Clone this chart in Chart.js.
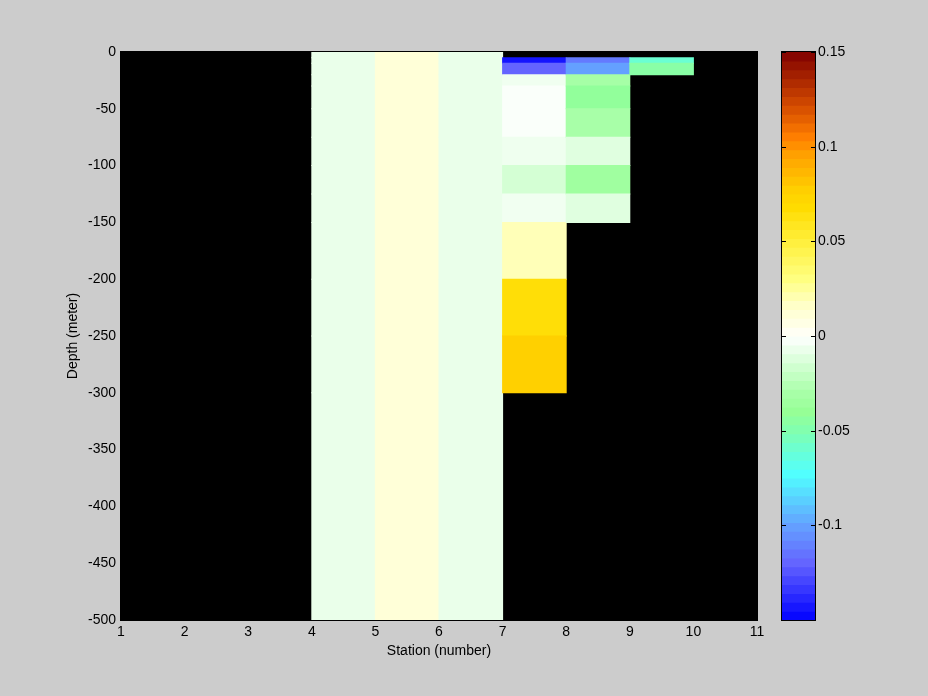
<!DOCTYPE html>
<html><head><meta charset="utf-8">
<script src="https://cdn.jsdelivr.net/npm/chart.js@4/dist/chart.umd.min.js"></script>
<style>
html,body{margin:0;padding:0;background:#cccccc;overflow:hidden}
#wrap{position:relative;width:928px;height:696px;background:#cccccc}
#main{position:absolute;left:0;top:0}
#cbar{position:absolute;left:760px;top:0}
</style></head><body>
<div id="wrap">
<canvas id="main" width="928" height="696"></canvas>
<canvas id="cbar" width="168" height="696"></canvas>
</div>
<script>
// ---- data ----
const stationTicks = [1, 2, 3, 4, 5, 6, 7, 8, 9, 10, 11];
const depthTicks = [0, -50, -100, -150, -200, -250, -300, -350, -400, -450, -500];
const colorbarTicks = [-0.1, -0.05, 0, 0.05, 0.1, 0.15];
const layerTops    = [0, -5, -10, -20, -30, -50, -75, -100, -125, -150, -200, -250, -300];
const layerBottoms = [-5, -10, -20, -30, -50, -75, -100, -125, -150, -200, -250, -300, -500];
const stationCenters = [4.5, 5.5, 6.5, 7.5, 8.5, 9.5];
const station4 = [-0.0072, -0.0072, -0.0072, -0.0072, -0.0072, -0.0072, -0.0072, -0.0072, -0.0072, -0.0072, -0.0072, -0.0072, -0.0072];
const station5 = [0.0113, 0.0113, 0.0113, 0.0113, 0.0113, 0.0113, 0.0113, 0.0113, 0.0113, 0.0113, 0.0113, 0.0113, 0.0113];
const station6 = [-0.0072, -0.0072, -0.0072, -0.0072, -0.0072, -0.0072, -0.0072, -0.0072, -0.0072, -0.0072, -0.0072, -0.0072, -0.0072];
const station7 = [null, -0.144, -0.12, -0.0052, -0.0017, -0.0017, -0.0055, -0.0148, -0.005, 0.0195, 0.066, 0.077, null];
const station8 = [null, -0.1127, -0.1, -0.031, -0.042, -0.03, -0.0107, -0.0344, -0.0107, null, null, null, null];
const station9 = [null, -0.06, -0.046, null, null, null, null, null, null, null, null, null, null];
const stationValues = [station4, station5, station6, station7, station8, station9];
const cbRange = [-0.15, 0.15];
const cbLevels = 64;

// ---- colormap (style) ----
const cmapAnchors = [
  [-0.15, [0, 0, 255]], [-0.12, [100, 100, 255]], [-0.1, [100, 160, 255]],
  [-0.073, [80, 255, 255]], [-0.05, [128, 255, 176]], [-0.04, [150, 255, 150]],
  [-0.03, [168, 255, 168]], [0, [255, 255, 255]], [0.0023, [255, 255, 244]],
  [0.0164, [255, 255, 200]], [0.0305, [255, 255, 128]], [0.049, [255, 240, 64]],
  [0.068, [255, 220, 0]], [0.077, [255, 208, 0]], [0.096, [255, 160, 0]],
  [0.105, [255, 128, 0]], [0.12, [216, 80, 0]], [0.15, [128, 0, 0]]
];
function cmap(v) {
  if (v <= cmapAnchors[0][0]) return 'rgb(' + cmapAnchors[0][1].join(',') + ')';
  for (let i = 1; i < cmapAnchors.length; i++) {
    const [v1, c1] = cmapAnchors[i];
    if (v <= v1) {
      const [v0, c0] = cmapAnchors[i - 1];
      const t = (v - v0) / (v1 - v0);
      const c = c0.map((a, k) => Math.round(a + (c1[k] - a) * t));
      return 'rgb(' + c.join(',') + ')';
    }
  }
  return 'rgb(' + cmapAnchors[cmapAnchors.length - 1][1].join(',') + ')';
}

// ---- build cells ----
const cells = [];
stationValues.forEach((col, ci) => {
  col.forEach((v, li) => {
    if (v === null) return;
    cells.push({x: stationCenters[ci], y: [layerTops[li], layerBottoms[li]], v: v});
  });
});

const font = {family: '"Liberation Sans", Arial, sans-serif', size: 14};

const blackPlot = {
  id: 'blackPlot',
  beforeDatasetsDraw(chart) {
    const {ctx, chartArea: a} = chart;
    ctx.save();
    ctx.fillStyle = '#000';
    ctx.fillRect(a.left - 1, a.top - 1, a.right - a.left + 2, a.bottom - a.top + 2);
    ctx.restore();
  }
};

new Chart(document.getElementById('main'), {
  type: 'bar',
  data: {
    datasets: [{
      data: cells.map(c => ({x: c.x, y: c.y})),
      backgroundColor: cells.map(c => cmap(c.v)),
      borderWidth: 0,
      barPercentage: 1,
      categoryPercentage: 1,
      inflateAmount: 0.5
    }]
  },
  options: {
    responsive: false, animation: false, devicePixelRatio: 1,
    layout: {padding: {left: 0, top: 52, right: 171, bottom: 0}},
    plugins: {legend: {display: false}, tooltip: {enabled: false}},
    scales: {
      x: {
        type: 'linear', min: 1, max: 11, offset: false,
        grid: {display: false, drawTicks: false, offset: false},
        border: {display: false},
        afterBuildTicks: s => { s.ticks = stationTicks.map(v => ({value: v})); },
        ticks: {color: '#000', font: font, padding: 4, maxRotation: 0, autoSkip: false},
        title: {display: true, text: 'Station (number)', color: '#000', font: font, padding: {top: 0, bottom: 36.6}},
        afterFit: s => { s.height = 76; }
      },
      y: {
        type: 'linear', min: -500, max: 0,
        grid: {display: false, drawTicks: false},
        border: {display: false},
        afterBuildTicks: s => { s.ticks = depthTicks.map(v => ({value: v})); },
        ticks: {color: '#000', font: font, padding: 5, autoSkip: false},
        title: {display: true, text: 'Depth (meter)', color: '#000', font: font, padding: {top: 64.6, bottom: 0}},
        afterFit: s => { s.width = 121; }
      }
    }
  },
  plugins: [blackPlot]
});

// ---- colorbar ----
const cbStep = (cbRange[1] - cbRange[0]) / cbLevels;
const cbBars = [];
for (let i = 0; i < cbLevels; i++) {
  const lo = cbRange[0] + i * cbStep, hi = lo + cbStep;
  cbBars.push({lo: lo, hi: hi, color: cmap((lo + hi) / 2)});
}
const cbFrame = {
  id: 'cbFrame',
  afterDatasetsDraw(chart) {
    const {ctx, chartArea: a} = chart;
    const ys = chart.scales.y;
    ctx.save();
    ctx.strokeStyle = '#000';
    ctx.lineWidth = 1;
    ctx.strokeRect(a.left - 0.5, a.top - 0.5, a.right - a.left + 1, a.bottom - a.top + 1);
    ctx.beginPath();
    colorbarTicks.forEach(v => {
      const y = Math.round(ys.getPixelForValue(v)) + 0.5;
      ctx.moveTo(a.left, y); ctx.lineTo(a.left + 4, y);
      ctx.moveTo(a.right - 4, y); ctx.lineTo(a.right, y);
    });
    ctx.stroke();
    ctx.restore();
  }
};
new Chart(document.getElementById('cbar'), {
  type: 'bar',
  data: {
    labels: ['c'],
    datasets: [{
      data: cbBars.map(b => ({x: 'c', y: [b.lo, b.hi]})),
      backgroundColor: cbBars.map(b => b.color),
      borderWidth: 0, barPercentage: 1, categoryPercentage: 1, inflateAmount: 0.5
    }]
  },
  options: {
    responsive: false, animation: false, devicePixelRatio: 1,
    layout: {padding: {left: 22, top: 52, right: 0, bottom: 76}},
    plugins: {legend: {display: false}, tooltip: {enabled: false}},
    scales: {
      x: {display: false},
      y: {
        position: 'right', min: cbRange[0], max: cbRange[1],
        grid: {display: false, drawTicks: false},
        border: {display: false},
        afterBuildTicks: s => { s.ticks = colorbarTicks.map(v => ({value: v})); },
        ticks: {color: '#000', font: font, padding: 3, autoSkip: false,
          callback: v => String(+Number(v).toFixed(3))},
        afterFit: s => { s.width = 113; }
      }
    }
  },
  plugins: [cbFrame]
});
</script>
</body></html>
